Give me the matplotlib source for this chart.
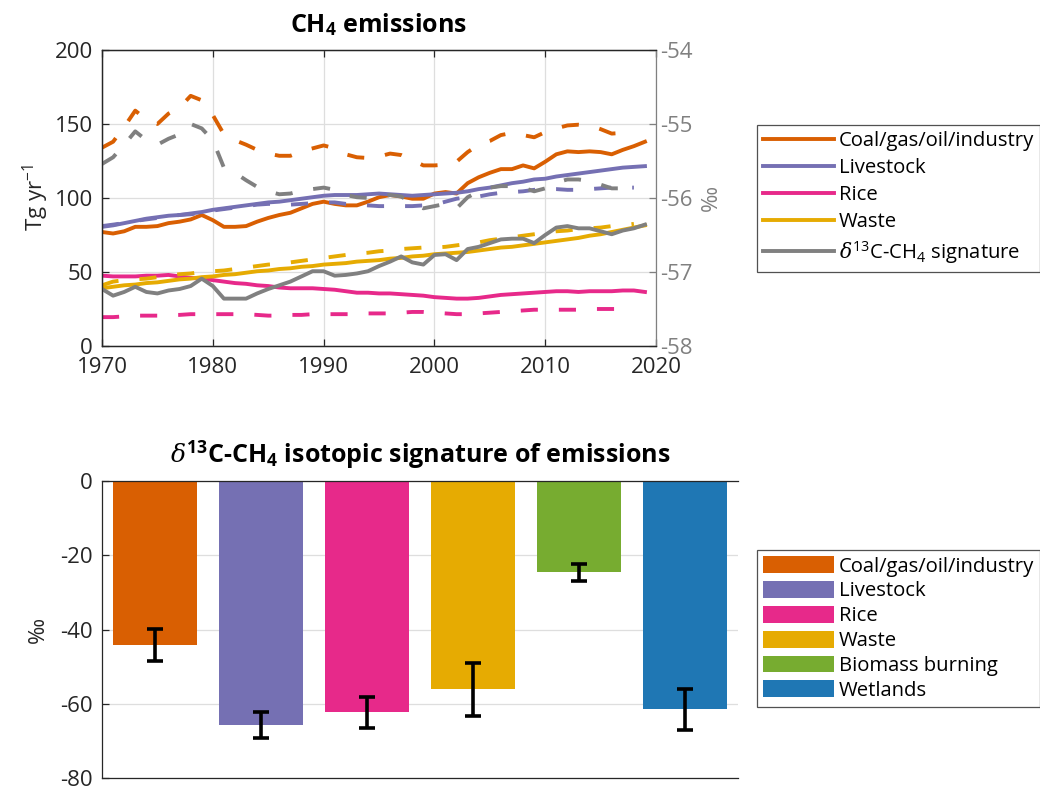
import numpy as np
import matplotlib
matplotlib.use("Agg")
import matplotlib.pyplot as plt
from matplotlib.lines import Line2D
from matplotlib.patches import Patch

plt.rcParams["font.family"] = ["Open Sans", "DejaVu Sans"]
plt.rcParams["mathtext.fontset"] = "custom"
plt.rcParams["mathtext.rm"] = "Open Sans"
plt.rcParams["mathtext.bf"] = "Open Sans:bold"
plt.rcParams["mathtext.it"] = "DejaVu Serif:italic"
plt.rcParams["axes.unicode_minus"] = False

# ---------------- data ----------------
years_solid = list(range(1970, 2020))
years_dashed = list(range(1970, 2019))

coal = [77, 76, 77.5, 80.5, 80.5, 81, 83, 84, 85.5, 88.5,
        85, 80.5, 80.5, 81, 84, 86.5, 88.5, 90, 93, 96,
        97.5, 96, 95, 95, 97.5, 100.5, 102, 101, 99.5, 99.5,
        103, 104, 103, 110, 114, 117, 119.5, 119.5, 122, 120,
        124.5, 129.5, 131.5, 131, 131.5, 131, 129.5, 132.5, 135, 138]
coal_alt = [134, 138, 148, 159, 153, 150, 157, 161, 169, 166,
            156, 143, 139, 136, 132.5, 130, 128.5, 128.5, 131.5, 133.5,
            135.5, 133.5, 129.5, 127.5, 127, 128, 130, 129, 125.5, 122,
            122, 122.5, 124.5, 131, 136, 138.5, 142.5, 144, 142.5, 141,
            144.5, 147, 149, 149.5, 149, 146.5, 143.5, 144, 146]

livestock = [80.5, 81.5, 83, 84.5, 86, 87, 88, 88.5, 89.5, 90.5,
             92, 93, 94, 95, 96, 97, 97.5, 98.5, 99.5, 100.5,
             101.5, 102, 102, 102, 102.5, 103, 102.5, 102, 101.5, 102,
             102.5, 103, 103.5, 104.5, 106, 107, 108.5, 110, 111, 112.5,
             113, 114.5, 115.5, 116.5, 117.5, 118.5, 119.5, 120.5, 121, 121.5]
livestock_alt = [81, 82, 83, 84.5, 85.5, 86.5, 87.5, 88.5, 89, 90,
                 91.5, 92.5, 93.5, 94.5, 95.5, 96, 96, 95.5, 96, 96.5,
                 97, 97, 96, 95.5, 95, 94.5, 94.5, 94.5, 94.5, 95,
                 95.5, 97.5, 99.5, 100.5, 101, 102.5, 103.5, 104, 104.5, 105.5,
                 106, 106, 105.5, 105.5, 106, 106.5, 107, 107, 107]

rice = [47.5, 47, 47, 47, 47.5, 47.5, 48, 47, 46, 45.5,
        44.5, 43.5, 42.5, 42, 41, 40.5, 39.5, 39, 39, 39,
        38.5, 38, 37, 36, 36, 35.5, 35.5, 35, 34.5, 34,
        33, 32.5, 32, 32, 32.5, 33.5, 34.5, 35, 35.5, 36,
        36.5, 37, 37, 36.5, 37, 37, 37, 37.5, 37.5, 36.5]
rice_alt = [19.5, 19.5, 20, 20.5, 20.5, 20.5, 21, 21, 21.5, 21.5,
            21.5, 21.5, 21.5, 21.5, 21, 20.5, 20.5, 21, 21, 21.5,
            21.5, 21.5, 21.5, 21.5, 22, 22, 22, 22.5, 23, 23,
            22.5, 22, 21.5, 21.5, 22, 22.5, 23, 23.5, 24, 24.5,
            24.5, 24.5, 24.5, 24.5, 25, 25, 25, 25, 25]

waste = [39, 40, 41, 41.5, 42.5, 43, 44, 45, 45.5, 46.5,
         47, 48, 48.5, 49.5, 50.5, 51, 52, 52.5, 53.5, 54,
         55, 55.5, 56, 57, 57.5, 58, 59, 59.5, 60.5, 61,
         62, 62.5, 63, 63.5, 64.5, 65.5, 66.5, 67, 68, 69,
         70, 71, 72, 73, 74.5, 75.5, 77, 78.5, 80, 81.5]
waste_alt = [41, 43.5, 44.5, 45, 45.5, 46.5, 47.5, 48.5, 49, 50,
             50.5, 51, 52, 53, 54, 55, 55.5, 56.5, 57.5, 58.5,
             59.5, 60.5, 61.5, 62.5, 63, 64, 64.5, 65.5, 66, 66.5,
             66.5, 67, 68, 69, 70, 71.5, 72.5, 73.5, 74.5, 75.5,
             76.5, 77.5, 78, 79, 79.5, 80, 81, 81.5, 82.5]

d13c = [-57.23, -57.32, -57.27, -57.20, -57.27, -57.29, -57.25, -57.23, -57.19, -57.09,
        -57.19, -57.36, -57.36, -57.36, -57.29, -57.23, -57.18, -57.13, -57.06, -56.99,
        -56.99, -57.05, -57.04, -57.02, -56.99, -56.92, -56.86, -56.79, -56.87, -56.90,
        -56.77, -56.76, -56.84, -56.69, -56.66, -56.61, -56.56, -56.55, -56.55, -56.61,
        -56.50, -56.40, -56.38, -56.41, -56.41, -56.45, -56.49, -56.44, -56.41, -56.36]
d13c_alt = [-55.54, -55.45, -55.28, -55.10, -55.22, -55.28, -55.20, -55.14, -55.00, -55.06,
            -55.22, -55.59, -55.66, -55.76, -55.85, -55.91, -55.95, -55.94, -55.90, -55.88,
            -55.86, -55.89, -55.96, -55.99, -56.00, -55.98, -55.96, -55.98, -56.07, -56.14,
            -56.11, -56.08, -56.14, -55.99, -55.91, -55.86, -55.84, -55.84, -55.86, -55.91,
            -55.87, -55.79, -55.75, -55.75, -55.77, -55.82, -55.87, -55.87, -55.86]

sources = ["Coal/gas/oil/industry", "Livestock", "Rice", "Waste",
           "Biomass burning", "Wetlands"]
signature = [-44.2, -65.7, -62.3, -56.1, -24.6, -61.5]
signature_err = [4.4, 3.5, 4.2, 7.1, 2.2, 5.5]

colors = ["#d95f02", "#7570b3", "#e7298a", "#e6ab02", "#77ac30", "#1f77b4"]
gray = "#808080"
ink = "#262626"

TICK = 16
LEG = 14.6
TITLE = 18

# ---------------- figure ----------------
fig = plt.figure(figsize=(10.4, 7.93), dpi=100)

ax1 = fig.add_axes([0.0981, 0.5637, 0.5327, 0.3733])
ax2 = ax1.twinx()

lw = 2.8
dash = (0, (4.4, 5.4))
series = [(coal, coal_alt), (livestock, livestock_alt),
          (rice, rice_alt), (waste, waste_alt)]
for (solid, alt), c in zip(series, colors[:4]):
    ax1.plot(years_dashed, alt, color=c, lw=lw, linestyle=dash)
    ax1.plot(years_solid, solid, color=c, lw=lw)

ax2.plot(years_dashed, d13c_alt, color=gray, lw=lw, linestyle=dash)
ax2.plot(years_solid, d13c, color=gray, lw=lw)

ax1.set_xlim(1970, 2020)
ax1.set_ylim(0, 200)
ax2.set_ylim(-58, -54)
ax1.set_xticks(range(1970, 2021, 10))
ax1.set_yticks(range(0, 201, 50))
ax2.set_yticks([-58, -57, -56, -55, -54])
ax1.grid(True, color="#dedede", lw=0.9)
ax1.set_axisbelow(True)

for a in (ax1, ax2):
    for s in a.spines.values():
        s.set_linewidth(0.9)
        s.set_color(ink)
ax2.spines["right"].set_color(gray)
ax1.spines["right"].set_visible(False)
ax1.tick_params(axis="both", direction="in", length=5, width=0.9,
                labelsize=TICK, colors=ink, top=True)
ax1.tick_params(axis="x", pad=8)
ax1.tick_params(axis="y", pad=6.5)
ax2.tick_params(axis="y", direction="in", length=5, width=0.9,
                labelsize=TICK, colors=gray, pad=3)
ax1.set_ylabel("Tg yr$^{-1}$", fontsize=TICK, color=ink, labelpad=3)
ax2.set_ylabel("‰", fontsize=TICK, color=gray, labelpad=6)
ax1.set_title("CH$_\\mathbf{4}$ emissions", fontsize=TITLE,
              fontweight="bold", color="black", pad=13)

handles1 = [Line2D([], [], color=c, lw=lw) for c in colors[:4]]
handles1.append(Line2D([], [], color=gray, lw=lw))
labels1 = sources[:4] + ["$\\delta^{13}$C-CH$_4$ signature"]
leg1 = fig.legend(handles1, labels1, loc="upper left",
                  bbox_to_anchor=(0.7279, 0.8424), fontsize=LEG,
                  frameon=True, fancybox=False, edgecolor=ink,
                  handlelength=3.5, handletextpad=0.25, labelspacing=0.34,
                  borderpad=0.3, borderaxespad=0)
leg1.get_frame().set_linewidth(0.9)

# ---------------- bar panel ----------------
ax3 = fig.add_axes([0.0981, 0.0189, 0.6115, 0.3745])
pos = np.arange(1, len(sources) + 1)
ax3.bar(pos, signature, width=0.8, color=colors, zorder=2)
ax3.errorbar(pos, signature, yerr=signature_err, fmt="none", ecolor="black",
             elinewidth=2.6, capsize=5.8, capthick=2.6, zorder=3)
ax3.set_xlim(0.5, 6.5)
ax3.set_ylim(-80, 0)
ax3.set_yticks([-80, -60, -40, -20, 0])
ax3.set_xticks([])
ax3.grid(True, axis="y", color="#dedede", lw=0.9)
ax3.set_axisbelow(True)
for name, s in ax3.spines.items():
    s.set_linewidth(0.9)
    s.set_color(ink)
ax3.spines["right"].set_visible(False)
ax3.tick_params(axis="y", direction="in", length=5, width=0.9,
                labelsize=TICK, colors=ink, pad=6.5)
ax3.set_ylabel("‰", fontsize=TICK, color=ink, labelpad=8)
ax3.set_title("$\\delta^{\\mathbf{13}}$C-CH$_\\mathbf{4}$ isotopic signature of emissions",
              fontsize=TITLE, fontweight="bold", color="black", pad=13)

handles2 = [Patch(facecolor=c, edgecolor="none") for c in colors]
leg2 = fig.legend(handles2, sources, loc="upper left",
                  bbox_to_anchor=(0.7279, 0.3064), fontsize=LEG,
                  frameon=True, fancybox=False, edgecolor=ink,
                  handlelength=3.5, handleheight=0.9, handletextpad=0.25,
                  labelspacing=0.22, borderpad=0.3, borderaxespad=0)
leg2.get_frame().set_linewidth(0.9)

fig.savefig("out.png", dpi=100)
